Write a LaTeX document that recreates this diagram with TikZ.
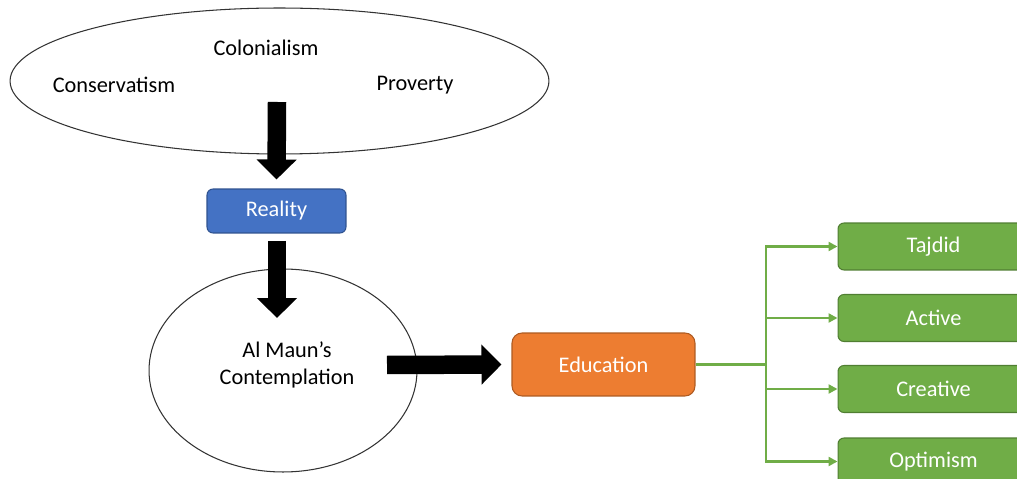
\documentclass[tikz,border=0pt]{standalone}
\usepackage{fontspec}
\setmainfont{Carlito}
\usetikzlibrary{arrows.meta, shapes.geometric}

\definecolor{azul}{HTML}{4472C4}
\definecolor{azulborde}{HTML}{2F528F}
\definecolor{naranja}{HTML}{ED7D31}
\definecolor{naranjaborde}{HTML}{AE5A21}
\definecolor{verde}{HTML}{70AD47}
\definecolor{verdeborde}{HTML}{507E32}

\tikzset{
    caja/.style={draw, rounded corners=0.12cm, line width=0.6pt, text=white},
    cajaverde/.style={caja, fill=verde, draw=verdeborde, minimum width=3.82cm, minimum height=0.94cm},
    flecha/.style={line width=0.37cm, -{Triangle[width=0.78cm,length=0.4cm]}},
    rama/.style={draw=verde, line width=1.4pt, -{Triangle[width=0.18cm,length=0.18cm]}}
}

\begin{document}
\begin{tikzpicture}[x=0.02cm, y=-0.02cm, font=\fontsize{12.7}{15}\selectfont]
        \useasboundingbox (0,0) rectangle (1017,479);
        \clip (0,0) rectangle (1017,479);
        % Elipses
        \node[draw=black!80, line width=0.6pt, ellipse, minimum width=10.78cm, minimum height=2.92cm] (problemas) at (279.5,81) {};
        \node[draw=black!80, line width=0.6pt, ellipse, minimum width=5.36cm, minimum height=4.06cm] (almaun) at (283,370.5) {};
        % Texto de las elipses
        \node (colonialismo) at (266,48) {Colonialism};
        \node (conservadurismo) at (114,85) {Conservatism};
        \node (pobreza) at (415,85) {Proverty};
        \node[align=center, font=\fontsize{12.7}{15.3}\selectfont] (contemplacion) at (287,364.5) {Al Maun’s\\Contemplation};
        % Cajas
        \node[caja, fill=azul, draw=azulborde, minimum width=2.78cm, minimum height=0.88cm] (realidad) at (276.5,211) {Reality};
        \node[caja, fill=naranja, draw=naranjaborde, rounded corners=0.2cm, minimum width=3.66cm, minimum height=1.26cm] (educacion) at (603.5,364.5) {Education};
        \node[cajaverde] (tajdid) at (933.5,246.5) {Tajdid};
        \node[cajaverde] (activo) at (933.5,318) {Active};
        \node[cajaverde] (creativo) at (933.5,389) {Creative};
        \node[cajaverde] (optimismo) at (933.5,461.5) {Optimism};
        % Flechas negras
        \coordinate (f1) at (277,102);
        \coordinate (f2) at (277,241);
        \coordinate (f3) at (387,365);
        \draw[flecha] (f1) -- ([yshift=0.18cm]realidad.north);
        \draw[flecha] (f2) -- (277,318);
        \draw[flecha] (f3) -- ([xshift=-0.2cm]educacion.west);
        % Ramas verdes
        \coordinate (tronco) at (766,364.5);
        \draw[draw=verde, line width=1.4pt] (educacion.east) -- (tronco);
        \draw[rama] (tronco) |- (tajdid.west);
        \draw[rama] (tronco) |- (activo.west);
        \draw[rama] (tronco) |- (creativo.west);
        \draw[rama] (tronco) |- (optimismo.west);
    \end{tikzpicture}
\end{document}
